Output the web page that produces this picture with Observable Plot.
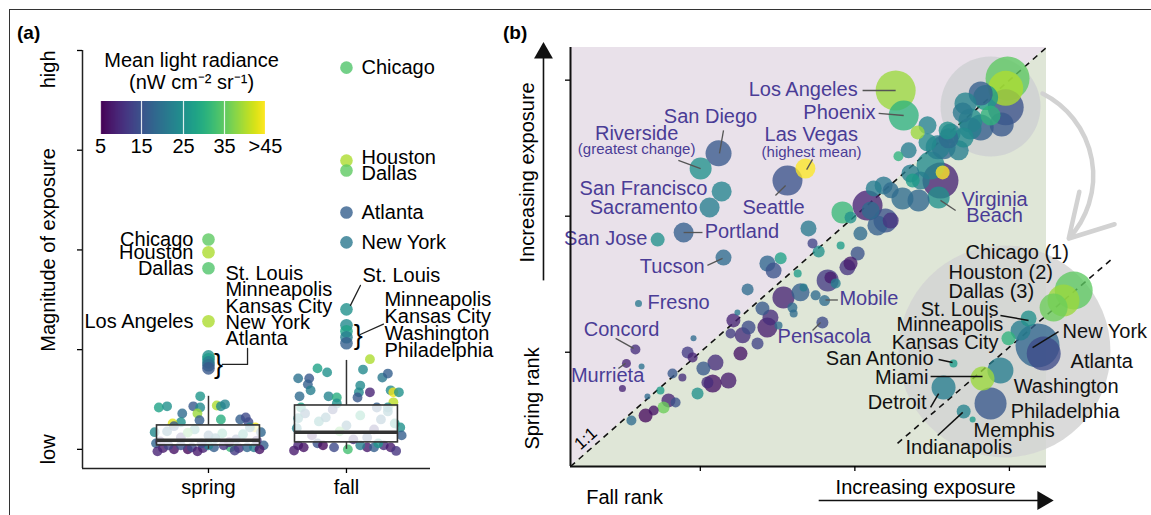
<!DOCTYPE html>
<html><head><meta charset="utf-8">
<script src="https://cdn.jsdelivr.net/npm/d3@7"></script>
<script src="https://cdn.jsdelivr.net/npm/@observablehq/plot@0.6"></script>
<style>
body{margin:0;background:#fff;font-family:'Liberation Sans',Arial,Helvetica,sans-serif;}
#wrap{position:relative;width:1151px;height:515px;overflow:hidden;background:#fff;}
#wrap svg{position:absolute;left:0;top:0;}
.frame{position:absolute;left:9px;top:9px;width:1300px;height:700px;border-left:1.5px solid #333;border-top:1.5px solid #333;pointer-events:none;z-index:5}
.tag{position:absolute;font-weight:bold;font-size:19px;line-height:19px;z-index:4}
.lgbox{position:absolute;left:85px;top:101px;width:195px;height:60px;}
.lgbox text{font-size:20px !important;font-family:'Liberation Sans',Arial,sans-serif !important;transform:translateY(2px);}
.lgbox .tick line{stroke:#fff;stroke-opacity:.85;stroke-width:1.2}
</style></head>
<body>
<div id="wrap"><div class="frame"></div><div class="tag" style="left:17px;top:23px">(a)</div><div class="tag" style="left:503px;top:23px">(b)</div></div>
<script>
// ---------------- Panel (a) data ----------------
const seasons = ["spring", "fall"];
// box statistics per season (magnitude of exposure, 0 = low ... 100 = high)
const boxQ1 = [1.0, 1.75];
const boxMedian = [2.3, 4.3];
const boxQ3 = [6.0, 11.0];
const whiskerHigh = [13.3, 22.3];
const whiskerLow = [0, 0];
// jittered cities: [jitter, magnitude, radiance]
const springPts = [
[-0.06,13.3,26],[-0.36,10.5,28],[-0.30,10.8,25],[-0.19,9.0,19],[-0.11,10.8,16],[-0.06,10.5,24],[-0.08,9.0,39],[0.06,11.0,40],[0.09,10.8,24],[0.12,11.3,23],[0.09,7.5,30],[-0.20,6.8,25],[-0.065,7.3,17],[0.23,7.5,17],[0.27,8.0,14],[0.29,6.8,14],[-0.26,6.5,43],[0.34,5.5,44],[-0.39,4.3,24],[0.38,4.3,18],[0.40,1.0,17],[-0.38,1.5,18],
[-0.33,0.3,8],[-0.25,0,7],[-0.15,0,6],[-0.12,0.5,14],[-0.04,0.3,9],[0.04,0.5,17],[0.16,0.5,32],[0.22,0.3,10],[0.28,0.5,18],[0.33,0.5,22],[-0.20,1.0,15],[-0.29,1.0,13],[0,1.0,23],[0.11,1.0,11],
[-0.37,-0.5,9],[0.37,0,7],[-0.08,-0.5,8],[0.19,-0.3,12],
[-0.3,4.5,20],[-0.2,3.0,12],[-0.1,5.0,25],[0.0,3.5,18],[0.1,4.0,30],[0.2,2.5,15],[0.3,5.5,22],[-0.35,2.0,10],[0.15,1.8,9],[-0.05,1.5,14],[0.25,3.8,27],[-0.25,5.8,16],[0.05,2.8,21],[0.35,2.2,11],[-0.15,4.2,35]
];
const fallPts = [
[0.17,22.6,40],[-0.21,20.3,28],[-0.14,19.3,25],[0.12,20.0,24],[-0.35,17.8,20],[-0.27,17.8,16],[-0.28,16.3,17],[-0.26,14.8,22],[0.26,18.0,21],[0.30,19.0,17],[0.10,16.0,24],[-0.34,13.3,19],[-0.13,13.3,23],[-0.07,13.0,30],[0.09,14.3,24],[0.08,13.0,16],[0.17,14.3,9],[0.32,14.8,24],[0.34,14.3,44],[0.38,14.3,25],[0.34,11.8,41],[0.30,10.5,24],[-0.33,10.5,28],[-0.07,11.5,25],[0.39,5.5,25],[0.40,3.5,17],[-0.36,5.3,23],
[-0.35,1.0,9],[-0.31,0.5,7],[-0.21,1.5,15],[-0.09,0.5,14],[0.01,0,33],[0.15,0.5,8],[0.2,0.5,17],[0.27,1.0,10],[0.32,0.5,8],[0.1,1.0,22],[0.23,1.5,26],[-0.17,1.0,6],[-0.38,-0.3,8],[0.36,-0.4,11],
[-0.3,9,18],[-0.2,7,25],[-0.1,10,14],[0.0,6,20],[0.1,8.5,30],[0.2,5,12],[0.3,9.5,22],[-0.25,3.5,9],[0.15,3,16],[-0.05,4.5,35],[0.25,7.5,19],[0.35,6.5,27],[-0.35,7.8,24],[0.05,2.5,11],[-0.15,8,21],[0.22,10.5,17]
];
// labelled outliers: [city, magnitude, radiance]
const springTop = [["Chicago",52.6,35],["Houston",49.4,40],["Dallas",45.4,34],["Los Angeles",32.1,40]];
const springCluster = [["St. Louis",23.3,25],["Minneapolis",22.6,27],["Kansas City",21.8,22],["New York",21.1,19],["Atlanta",20.3,16]];
const fallTop = [["Chicago",95.7,34],["Houston",72.4,40],["Dallas",69.9,35],["Atlanta",59.4,17],["New York",51.9,21]];
const fallCluster = [["St. Louis",35.1,25],["Minneapolis",31.1,24],["Kansas City",29.6,28],["Washington",28.1,22],["Philadelphia",26.6,17]];
const legendTicks = [5, 15, 25, 35, 45];

// ---------------- Panel (b) data ----------------
// [city, fall rank, spring rank, bubble size, radiance]
const mainCities = [
["Los Angeles",113.2,146.2,20,39],["Phoenix",115.8,137.0,15,31],["Las Vegas",84.0,117.5,10,45],["Seattle",78.2,113.1,15,15],
["San Diego",55.9,123.1,13,16],["Riverside",50.1,117.5,11,25],["San Francisco",56.9,109.1,10,23],["Sacramento",53.0,103.2,10,22],
["San Jose",36.2,91.4,7,25],["Portland",44.6,94.0,10,17],["Tucson",57.5,84.8,8,19],["Fresno",30.0,67.9,3.5,21],
["Concord",29.0,51.0,5,10],["Murrieta",26.1,45.9,4.5,9],["",31.0,44.8,3,20],["",24.8,36.7,3.5,9],
["Mobile",90.2,69.0,5.5,19],["Pensacola",89.5,60.9,6,14],["",127.7,113.1,18,9],["Virginia Beach",127.1,106.9,11,25],["",128.4,116.1,7,45],
["",149.4,150.6,22,35],["",148.8,147.0,17.5,40],["",148.8,140.0,18,15],["",142.3,143.6,12.5,27],["",140.7,145.1,12,17],
["",143.9,137.0,10,31],["",137.4,135.2,12,25],["",134.9,138.1,10,21],["",140.7,132.6,13,17],["",137.4,132.2,11,22],
["",135.8,141.4,11,23],["",147.5,133.7,12,16],
["",131.0,130.4,10,21],["",128.7,125.3,12,18],["",133.6,124.2,10,22],["",135.2,128.9,10,24],["",130.0,131.5,9,25],
["",120.3,130.8,7,39],["",123.5,133.4,9,23],["",123.5,127.1,9,24],["",117.4,124.2,8,22],["",114.1,122.0,5,31],
["",126.8,125.3,12,22],["",130.3,128.6,10,19],["",124.5,118.6,14,24],["",118.0,115.7,9,22],["",118.7,113.1,7,27],
["",121.3,113.1,9,22],["",120.6,105.8,11,18],["",115.4,106.5,11,19],["",109.3,111.3,9,21],["",106.1,110.2,8,22],
["",104.1,103.9,15,9],["",111.6,109.5,8,19],["",109.9,98.4,12,15],["",111.6,98.4,8,11],["",107.3,96.6,10,17],
["",105.1,102.1,9,19],["",96.0,101.4,11,32],["",98.6,99.5,6,25],["",101.8,93.6,7,19],
["",85.0,95.5,8,21],["",86.3,90.0,5,13],["",88.3,87.0,6,25],["",95.4,89.2,4,27],["",100.9,86.3,7,15],["",98.6,82.6,7,8],["",97.6,81.2,8,11],
["",71.7,82.6,8,18],["",76.0,84.5,6,28],["",73.7,80.0,8,15],["",81.5,78.9,4,27],["",65.3,73.1,6,19],["",76.9,70.1,11,9],
["",82.4,72.0,9,17],["",83.4,73.8,4,22],["",91.2,76.4,11,12],["",92.1,77.5,6,8],["",93.8,75.3,5,22],["",87.3,70.9,5,19],
["",79.8,66.4,5,19],["",80.2,64.2,4,19],["",70.1,66.1,7,16],["",71.7,59.1,10,8],["",72.7,62.8,8,10],["",60.7,61.7,7,9],
["",62.0,64.6,3,21],["",65.6,59.1,7,14],["",63.7,56.2,8,10],["",68.5,53.2,6,13],["",59.8,56.9,5,12],["",75.3,59.8,4,19],
["",63.0,49.5,7,7],["",47.8,55.1,3,19],["",45.9,49.9,6,12],["",47.5,48.1,5,9],["",51.0,44.0,7,16],["",54.9,46.2,8,10],
["",59.1,39.6,8,8],["",54.0,38.5,9,7],["",52.3,38.9,6,10],["",49.1,34.8,6,25],["",41.0,42.2,5,16],["",44.2,40.7,4,10],
["",37.1,35.9,4,27],["",32.9,33.7,3,19],["",38.1,29.7,6,36],["",39.7,32.3,7,9],["",42.0,31.5,5,15],["",34.9,28.6,5,7],
["",32.3,26.7,7,6],["",27.7,24.9,5,19]
];
// magnified detail of the top-ranked cities (drawn in the lower-right inset)
const insetCities = [
["Chicago",170.8,72.7,19,35],["Houston",167.5,69.0,16,39],["Dallas",164.3,66.4,14,36],["St. Louis",156.2,62.4,8,25],
["Minneapolis",153.6,58.0,10,22],["Kansas City",149.7,55.1,7,31],["New York",159.1,52.5,22,18],["Atlanta",161.1,49.5,17,14],
["San Antonio",131.9,45.9,4,27],["Washington",147.1,43.3,13,22],["Miami",141.3,40.3,12,39],["Detroit",128.7,37.0,12,22],
["Philadelphia",143.9,31.2,16,16],["Memphis",135.2,28.2,7,23],["Indianapolis",138.1,25.3,3,27]
];

// ---------------- shared styles ----------------
const FONT = "'Liberation Sans', Arial, Helvetica, sans-serif";
const PURPLE = "#4a3c96";
const colorScale = {type: "linear", scheme: "viridis", domain: [5, 45], clamp: true};

// ---------------- Panel (a) ----------------
const X0 = 0.087, X1 = 2.609, Y0 = -4.8;
const toPts = (arr, pos) => arr.map(([j, v, rad]) => ({x: pos + j, v, rad}));
const toOut = (arr, pos) => arr.map(([name, v, rad]) => ({name, x: pos, v, rad}));
const boxes = seasons.map((s, i) => ({pos: i + 1, q1: boxQ1[i], med: boxMedian[i], q3: boxQ3[i], hi: whiskerHigh[i], lo: whiskerLow[i]}));
const T = {fontSize: 20, fontFamily: FONT};

const chartA = Plot.plot({
  width: 480, height: 515, marginLeft: 82, marginRight: 50, marginTop: 50, marginBottom: 47,
  x: {domain: [X0, X1]}, y: {domain: [Y0, 100]},
  color: colorScale,
  style: {fontFamily: FONT, background: "transparent", overflow: "visible"},
  marks: [
    Plot.dot(toPts(springPts, 1).concat(toPts(fallPts, 2)), {x: "x", y: "v", fill: "rad", r: 4.9, fillOpacity: 0.8}),
    Plot.rect(boxes, {x1: d => d.pos - 0.373, x2: d => d.pos + 0.373, y1: "q1", y2: "q3", fill: "white", fillOpacity: 0.78, stroke: "#333", strokeWidth: 1.6}),
    Plot.ruleY(boxes, {y: "med", x1: d => d.pos - 0.373, x2: d => d.pos + 0.373, stroke: "#333", strokeWidth: 3.5}),
    Plot.ruleX(boxes, {x: "pos", y1: "q3", y2: "hi", stroke: "#333", strokeWidth: 1.5}),
    Plot.ruleX(boxes, {x: "pos", y1: "lo", y2: "q1", stroke: "#333", strokeWidth: 1.5}),
    Plot.dot(toOut(springTop, 1).concat(toOut(springCluster, 1), toOut(fallTop, 2), toOut(fallCluster, 2)), {x: "x", y: "v", fill: "rad", r: 6.3, fillOpacity: 0.8}),
    // labels
    Plot.text(toOut(springTop, 1), {x: "x", y: "v", text: "name", textAnchor: "end", dx: -15, ...T}),
    Plot.text([{t: "Chicago", v: 95.7}, {t: "Houston", v: 73.2}, {t: "Dallas", v: 69.2}, {t: "Atlanta", v: 59.4}, {t: "New York", v: 51.9}], {x: () => 2, y: "v", text: "t", textAnchor: "start", dx: 15, ...T}),
    Plot.text([springCluster.map(d => d[0]).join("\n")], {x: () => 1.123, y: () => 35.6, text: d => d, textAnchor: "start", lineHeight: 0.82, ...T}),
    Plot.text(["St. Louis"], {x: () => 2.116, y: () => 43.6, text: d => d, textAnchor: "start", ...T}),
    Plot.text([fallCluster.slice(1).map(d => d[0]).join("\n")], {x: () => 2.275, y: () => 31.0, text: d => d, textAnchor: "start", lineHeight: 0.85, ...T}),
    Plot.text([{x: 1.072, y: 21.2}, {x: 2.085, y: 28.7}], {x: "x", y: "y", text: () => "}", fontSize: 27, fontFamily: FONT}),
    Plot.line([[1.10, 21.3], [1.283, 21.3], [1.283, 25.3]], {x: d => d[0], y: d => d[1], stroke: "#222", strokeWidth: 1.3}),
    Plot.line([[2.101, 41.1], [2.029, 36.1]], {x: d => d[0], y: d => d[1], stroke: "#222", strokeWidth: 1.3}),
    Plot.line([[2.10, 28.8], [2.268, 31.4]], {x: d => d[0], y: d => d[1], stroke: "#222", strokeWidth: 1.3}),
    // legend title
    Plot.text(["Mean light radiance"], {x: () => 0.877, y: () => 97.5, text: d => d, ...T}),
    Plot.text(["(nW cm\u207B\u00B2 sr\u207B\u00B9)"], {x: () => 0.877, y: () => 92.0, text: d => d, ...T}),
    // axes
    Plot.ruleX([X0], {y1: Y0, y2: 100, stroke: "#222", strokeWidth: 1.5}),
    Plot.ruleY([Y0], {x1: X0, x2: X1, stroke: "#222", strokeWidth: 1.5}),
    Plot.axisY({ticks: [0, 25, 50, 75, 100], tickFormat: () => "", tickSize: 5, label: null, strokeWidth: 1.3}),
    Plot.axisX({ticks: [1, 2], tickFormat: d => seasons[d - 1], tickSize: 5, tickPadding: 6, fontSize: 20, label: null, strokeWidth: 1.3}),
    Plot.text(["Magnitude of exposure"], {x: () => X0, y: () => 50, dx: -34, rotate: -90, text: d => d, ...T}),
    Plot.text(["high"], {x: () => X0, y: () => 100, dx: -34, rotate: -90, textAnchor: "end", text: d => d, ...T}),
    Plot.text(["low"], {x: () => X0, y: () => 0, dx: -34, rotate: -90, text: d => d, ...T})
  ]
});

// ---------------- Panel (b) ----------------
const toCity = arr => arr.map(([name, fall, spring, size, rad]) => ({name, fall, spring, size, rad}));
const LAV = "#e9e1ea", GRN = "#dfe6d7";
const purpleLabels = [
  {t: "Los Angeles", x: 100.9, y: 146.2, a: "end"}, {t: "Phoenix", x: 106.7, y: 137.8, a: "end"},
  {t: "Las Vegas", x: 85.9, y: 129.7, a: "middle"}, {t: "Seattle", x: 73.7, y: 102.8, a: "middle"},
  {t: "San Diego", x: 53.3, y: 136.3, a: "middle"}, {t: "Riverside", x: 29.4, y: 130.0, a: "middle"},
  {t: "San Francisco", x: 52.3, y: 109.8, a: "end"}, {t: "Sacramento", x: 49.1, y: 102.8, a: "end"},
  {t: "San Jose", x: 32.9, y: 91.4, a: "end"}, {t: "Portland", x: 51.4, y: 94.0, a: "start"},
  {t: "Tucson", x: 51.4, y: 81.2, a: "end"}, {t: "Fresno", x: 32.9, y: 67.9, a: "start"},
  {t: "Concord", x: 24.5, y: 58.0, a: "middle"}, {t: "Murrieta", x: 20.0, y: 41.1, a: "middle"},
  {t: "Mobile", x: 95.0, y: 69.4, a: "start"}, {t: "Pensacola", x: 75.0, y: 55.4, a: "start"},
  {t: "Virginia\nBeach", x: 145.2, y: 102.8, a: "middle"}
];
const purpleNotes = [{t: "(highest mean)", x: 86.0, y: 123.4}, {t: "(greatest change)", x: 29.4, y: 124.5}];
const purpleLeaders = [
  [102.5,146.2,113.2,146.2],[107.7,137.8,115.8,137.0],[86.3,120.9,84.4,117.1],[74.3,107.6,77.6,111.3],
  [57.5,131.5,56.2,123.1],[42.9,120.5,50.1,117.5],[44.6,94.0,50.7,94.0],[52.3,81.9,57.2,84.5],
  [22.6,55.1,28.4,51.4],[23.5,44.0,25.8,45.9],[90.5,69.2,94.5,69.2],[86.3,58.0,88.9,60.9],[127.7,105.8,132.6,102.1]
];
const blackLabels = [
  {t: "Chicago (1)", x: 135.8, y: 86.3, a: "start"}, {t: "Houston (2)", x: 130.3, y: 78.9, a: "start"},
  {t: "Dallas (3)", x: 130.3, y: 72.0, a: "start"}, {t: "St. Louis", x: 146.5, y: 65.3, a: "end"},
  {t: "Minneapolis", x: 148.0, y: 59.8, a: "end"}, {t: "Kansas City", x: 146.5, y: 53.2, a: "end"},
  {t: "New York", x: 167.2, y: 57.3, a: "start"}, {t: "Atlanta", x: 169.8, y: 46.2, a: "start"},
  {t: "San Antonio", x: 125.5, y: 47.3, a: "end"}, {t: "Miami", x: 123.8, y: 40.3, a: "end"},
  {t: "Washington", x: 151.4, y: 37.0, a: "start"}, {t: "Detroit", x: 123.2, y: 31.2, a: "end"},
  {t: "Philadelphia", x: 150.4, y: 27.9, a: "start"}, {t: "Memphis", x: 138.4, y: 20.9, a: "start"},
  {t: "Indianapolis", x: 116.4, y: 14.6, a: "start"}
];
const blackLeaders = [
  [147.1,63.5,156.2,61.7],[165.9,57.6,157.5,51.7],[127.1,47.3,131.6,46.2],[124.5,41.1,141.3,41.1],
  [124.5,29.7,127.1,34.8],[126.8,19.4,134.9,27.9]
];
const links = (arr, stroke, w) => Plot.link(arr, {x1: d => d[0], y1: d => d[1], x2: d => d[2], y2: d => d[3], stroke, strokeWidth: w});
const texts = (arr, fill) => ["start", "middle", "end"].map(a =>
  Plot.text(arr.filter(d => d.a === a), {x: "x", y: "y", text: "t", textAnchor: a, fill, lineHeight: 0.82, fontSize: 20, fontFamily: FONT}));

const chartB = Plot.plot({
  width: 651, height: 515, marginLeft: 70, marginRight: 105, marginTop: 47, marginBottom: 49,
  x: {domain: [8, 162]}, y: {domain: [8, 162]},
  r: {type: "linear", domain: [0, 22], range: [0, 22]},
  color: colorScale,
  style: {fontFamily: FONT, background: "transparent", overflow: "visible"},
  marks: [
    Plot.areaY([8, 162], {x: d => d, y1: d => d, y2: () => 162, fill: LAV}),
    Plot.areaY([8, 162], {x: d => d, y1: () => 8, y2: d => d, fill: GRN}),
    Plot.dot([{x: 143.9, y: 140.3}], {x: "x", y: "y", r: 50, fill: "#cdcfd2", fillOpacity: 0.8}),
    Plot.dot([{x: 148.4, y: 50.3}], {x: "x", y: "y", r: 106, fill: "#d3d4d3", fillOpacity: 0.85}),
    Plot.arrow([{x1: 160.7, y1: 145.1, x2: 169.2, y2: 91.8}], {x1: "x1", y1: "y1", x2: "x2", y2: "y2", bend: 53, stroke: "#d2d2d2", strokeWidth: 4.5, headLength: 16}),
    Plot.link([{x1: 8, y1: 8, x2: 162, y2: 162}, {x1: 113.8, y1: 16.5, x2: 183.7, y2: 84.8}], {x1: "x1", y1: "y1", x2: "x2", y2: "y2", stroke: "#111", strokeWidth: 1.6, strokeDasharray: "6,5"}),
    Plot.dot(toCity(mainCities), {x: "fall", y: "spring", r: "size", fill: "rad", fillOpacity: 0.78}),
    Plot.dot(toCity(insetCities), {x: "fall", y: "spring", r: "size", fill: "rad", fillOpacity: 0.78}),
    links(purpleLeaders, "#555", 1.3),
    links(blackLeaders, "#111", 1.5),
    ...texts(purpleLabels, PURPLE),
    Plot.text(purpleNotes, {x: "x", y: "y", text: "t", fill: PURPLE, fontSize: 15, fontFamily: FONT}),
    ...texts(blackLabels, "#111"),
    Plot.text(["1:1"], {x: () => 12.9, y: () => 18.3, text: d => d, rotate: -41.4, fontSize: 17, fontFamily: FONT}),
    // axes
    Plot.ruleX([8], {y1: 8, y2: 162, stroke: "#111", strokeWidth: 2}),
    Plot.ruleY([8], {x1: 8, x2: 162, stroke: "#111", strokeWidth: 2}),
    Plot.axisX({ticks: [50, 100, 150], tickFormat: () => "", tickSize: 5, label: null, strokeWidth: 1.3}),
    Plot.axisY({ticks: [50, 100, 150], tickFormat: () => "", tickSize: 5, label: null, strokeWidth: 1.3}),
    Plot.text(["Increasing exposure"], {x: () => -5.9, y: () => 116.1, rotate: -90, text: d => d, ...T}),
    Plot.text(["Spring rank"], {x: () => -4.3, y: () => 33.0, rotate: -90, text: d => d, ...T}),
    Plot.text(["Fall rank"], {x: () => 25.5, y: () => -3.4, text: d => d, ...T}),
    Plot.text(["Increasing exposure"], {x: () => 122.9, y: () => 0.3, text: d => d, ...T}),
    Plot.link([{x1: -0.74, y1: 76.4, x2: -0.74, y2: 160}, {x1: 88.3, y1: -4.5, x2: 160.5, y2: -4.5}], {x1: "x1", y1: "y1", x2: "x2", y2: "y2", stroke: "#111", strokeWidth: 1.6}),
    Plot.dot([{x: -0.74, y: 160.0, rot: 0}, {x: 160.8, y: -4.5, rot: 90}], {x: "x", y: "y", rotate: "rot", symbol: "triangle", r: 7, fill: "#111"})
  ]
});

const wrap = document.getElementById("wrap");
wrap.appendChild(chartA);
chartB.style.left = "500px";
wrap.appendChild(chartB);

const lg = chartA.legend("color", {
  width: 195, height: 60, marginLeft: 15, marginRight: 15, marginTop: 0, marginBottom: 27,
  tickSize: 0, ticks: legendTicks, tickFormat: d => d === 45 ? ">45" : String(d), label: null,
  style: {background: "transparent", overflow: "visible"}
});
const box = document.createElement("div");
box.className = "lgbox";
box.appendChild(lg);
wrap.appendChild(box);
</script>
</body></html>
